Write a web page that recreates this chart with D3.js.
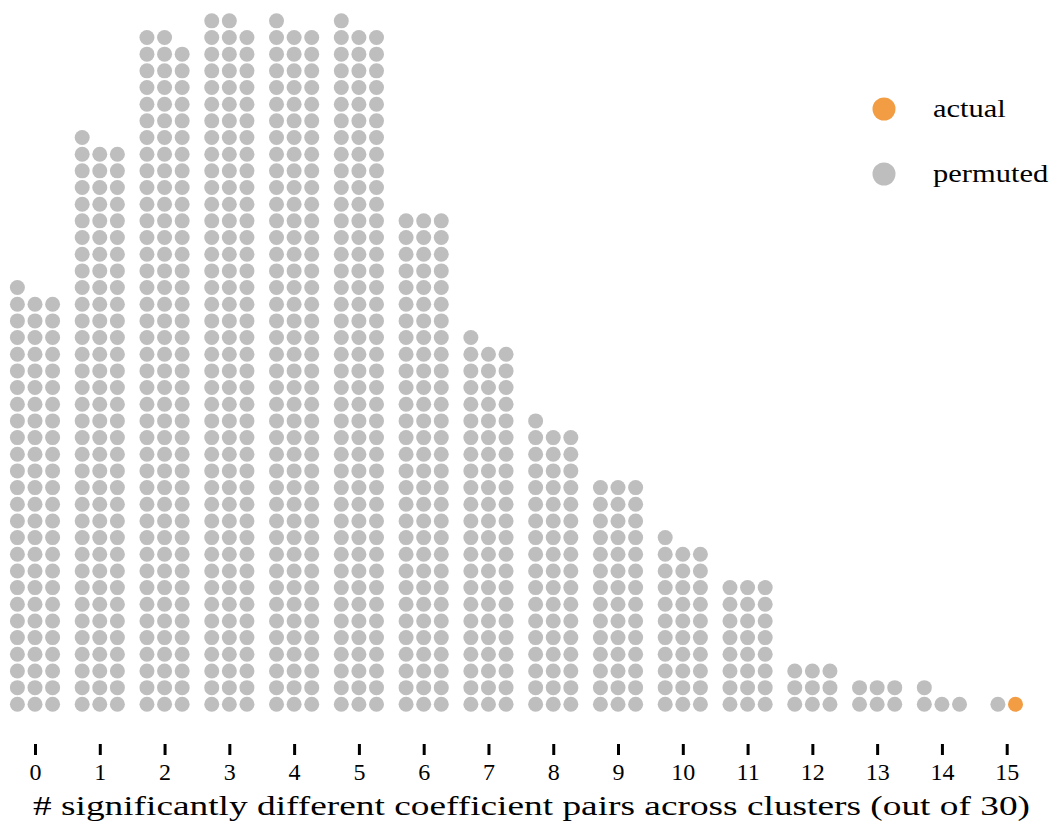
<!DOCTYPE html>
<html>
<head>
<meta charset="utf-8">
<script src="https://cdn.jsdelivr.net/npm/d3@7"></script>
<style>
  body { margin: 0; background: #fff; }
  text { font-family: "Liberation Serif", "DejaVu Serif", serif; fill: #000; }
</style>
</head>
<body>
<div id="chart"></div>
<script>
// number of significantly different pairs (0..15)
let categories = d3.range(0, 16);
// how many of the 1000 permutations landed on each value
let permutedCounts = [76, 103, 122, 125, 124, 124, 90, 67, 52, 42, 31, 24, 9, 6, 4, 1];
// the value seen in the real data
let actualValue = 15;
let tickLabels = categories.map(String);
let legendLabels = ["actual", "permuted"];
let axisTitle = "# significantly different coefficient pairs across clusters (out of 30)";

let width = 1052, height = 829;
let grey = "rgb(190,190,190)", orange = "rgb(242,156,67)";
let perRow = 3, colStep = 17.6, rowStep = 16.67, r = 7.5;
// the original font is wider than Times, stretch a little
let stretch = 1.22;

let svg = d3.select("#chart").append("svg")
  .attr("width", width)
  .attr("height", height);

let x = d3.scaleLinear().domain([0, 15]).range([35, 1006.7]);
let y = d3.scaleLinear().domain([0, 1]).range([704.3, 704.3 - rowStep]);

// build the stacked dots, rows of three, filled left to right
let dots = [];
categories.forEach(function(c, k) {
  let n = permutedCounts[k] + (c === actualValue ? 1 : 0);
  for (let i = 0; i < n; i++) {
    let row = Math.floor(i / perRow), col = i % perRow;
    // a lone short row is centred on its tick
    let off = n < perRow ? col - (n - 1) / 2 : col - 1;
    dots.push({
      cat: c,
      row: row,
      off: off,
      actual: c === actualValue && i === n - 1
    });
  }
});

svg.append("g").selectAll("circle")
  .data(dots).enter()
  .append("circle")
  .attr("cx", d => x(d.cat) + d.off * colStep)
  .attr("cy", d => y(d.row))
  .attr("r", r)
  .attr("fill", d => d.actual ? orange : grey);

// axis: short ticks, no domain line
let axis = svg.append("g")
  .attr("transform", "translate(0,744)")
  .call(d3.axisBottom(x).tickValues(categories).tickFormat((d, i) => tickLabels[i]).tickSize(11).tickPadding(8));
axis.select(".domain").remove();
axis.selectAll(".tick line").attr("stroke", "#000").attr("stroke-width", 3);
axis.selectAll(".tick text")
  .attr("fill", "#000")
  .style("font-size", "24px")
  .style("font-family", "Liberation Serif, serif");

function widen(sel) {
  sel.each(function() {
    let len = this.getComputedTextLength();
    d3.select(this).attr("textLength", len * stretch).attr("lengthAdjust", "spacingAndGlyphs");
  });
}

svg.append("text")
  .attr("x", 33)
  .attr("y", 815)
  .style("font-size", "28px")
  .text(axisTitle)
  .attr("textLength", 997)
  .attr("lengthAdjust", "spacingAndGlyphs");

// legend
let legend = svg.append("g").attr("transform", "translate(884,109)");
let lg = legend.selectAll("g")
  .data(legendLabels).enter()
  .append("g")
  .attr("transform", (d, i) => "translate(0," + i * 65 + ")");
lg.append("circle")
  .attr("r", 11.5)
  .attr("fill", (d, i) => i === 0 ? orange : grey);
lg.append("text")
  .attr("x", 49)
  .attr("dy", "0.32em")
  .style("font-size", "25px")
  .text(d => d)
  .call(widen);
</script>
</body>
</html>
